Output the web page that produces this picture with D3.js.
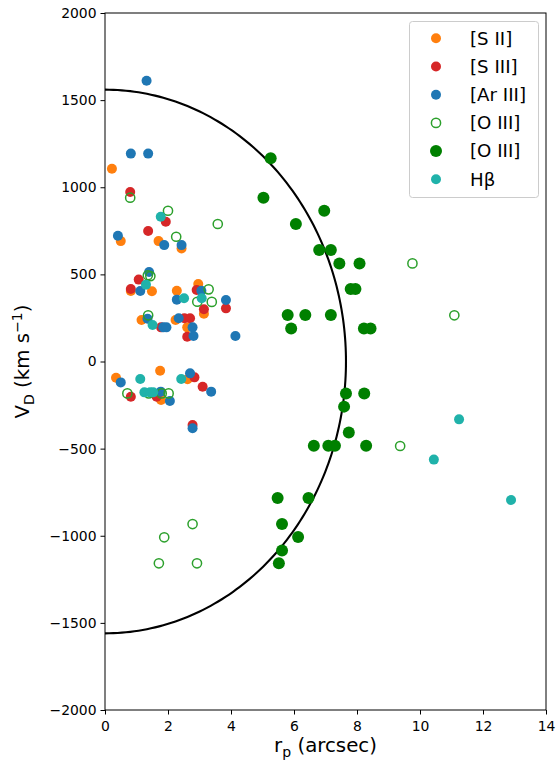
<!DOCTYPE html>
<html><head><meta charset="utf-8">
<script src="https://cdn.jsdelivr.net/npm/d3@7"></script>
<style>body{margin:0;background:#fff}svg{display:block}text{font-family:"DejaVu Sans",sans-serif}</style>
</head><body><svg id="c" width="557" height="762"></svg>
<script>
const xTicks = [0,2,4,6,8,10,12,14];
const yTicks = [-2000,-1500,-1000,-500,0,500,1000,1500,2000];
const seriesNames = ["[S II]","[S III]","[Ar III]","[O III]","[O III]","Hβ"];
const s2X = [0.22,0.50,1.70,2.43,0.82,1.49,2.28,2.96,3.14,1.16,2.24,2.61,0.35,1.75,2.62,1.78];
const s2Y = [1106,691,691,649,405,403,406,445,274,238,238,196,-93,-53,-102,-221];
const s3X = [0.80,1.93,1.37,1.07,0.82,2.91,3.14,3.84,2.52,2.70,1.78,2.61,2.84,3.10,0.82,1.64,2.78];
const s3Y = [973,802,749,470,416,410,300,305,248,248,196,142,-91,-145,-202,-202,-364];
const arX = [1.32,0.82,1.37,0.41,1.88,2.43,1.40,1.12,3.06,2.28,3.84,1.35,2.34,1.85,1.95,2.78,2.81,4.14,0.50,2.70,3.37,1.77,2.06,2.78];
const arY = [1611,1193,1193,722,668,668,514,405,406,355,353,245,248,196,196,196,146,146,-120,-68,-173,-173,-227,-383];
const o3oX = [0.80,2.00,3.58,2.26,1.36,1.44,3.29,2.93,3.39,1.37,9.76,11.09,0.71,1.39,1.80,2.02,9.37,2.78,1.88,1.71,2.92];
const o3oY = [940,865,789,716,495,490,414,343,342,265,563,265,-183,-183,-183,-183,-485,-933,-1009,-1158,-1158];
const o3fX = [5.26,5.03,6.96,6.06,6.80,7.17,7.44,8.08,7.80,7.95,5.80,6.36,7.17,5.91,8.22,8.43,7.65,8.23,7.59,7.74,6.63,7.09,7.30,8.29,5.48,6.46,5.62,6.13,5.62,5.52];
const o3fY = [1166,940,865,789,640,640,563,563,416,416,267,267,267,190,190,190,-183,-183,-259,-408,-483,-483,-483,-483,-783,-783,-933,-1007,-1084,-1158];
const hbX = [1.77,1.30,2.51,3.07,1.51,1.12,2.42,1.25,1.43,1.53,11.24,10.44,12.89];
const hbY = [831,441,363,363,209,-100,-100,-177,-177,-177,-332,-563,-795];
const ellA = 7.65, ellB = 1560;

const svg = d3.select("#c");
const L=105,R=546,T=13,B=710;
const x = d3.scaleLinear().domain([0,14]).range([L,R]);
const y = d3.scaleLinear().domain([-2000,2000]).range([B,T]);
const fmt = d=>d<0?"\u2212"+Math.abs(d):String(d);

// axes
const xa = svg.append("g").attr("transform",`translate(0,${B})`).call(d3.axisBottom(x).tickValues(xTicks).tickFormat(fmt).tickSizeOuter(0).tickSize(4.5).tickPadding(4));
const ya = svg.append("g").attr("transform",`translate(${L},0)`).call(d3.axisLeft(y).tickValues(yTicks).tickFormat(fmt).tickSizeOuter(0).tickSize(4.5).tickPadding(4));
[xa,ya].forEach(a=>{a.selectAll("text").attr("font-size",13.9).attr("fill","#000").style("font-family","DejaVu Sans");a.selectAll("line").attr("stroke","#000").attr("stroke-width",1);a.select(".domain").remove();});
xa.selectAll("text").attr("dy","0.9em");

// arc
const ts = d3.range(-90,90.5,1).map(d=>d*Math.PI/180);
svg.append("path").attr("d",d3.line().x(t=>x(ellA*Math.cos(t))).y(t=>y(ellB*Math.sin(t)))(ts))
  .attr("fill","none").attr("stroke","#000").attr("stroke-width",2.1);

const series = [
 {xs:s2X,ys:s2Y,fill:"#ff7f0e",stroke:"none",r:5},
 {xs:s3X,ys:s3Y,fill:"#d62728",stroke:"none",r:5},
 {xs:arX,ys:arY,fill:"#1f77b4",stroke:"none",r:5},
 {xs:o3oX,ys:o3oY,fill:"none",stroke:"#2ca02c",r:4.6,sw:1.5},
 {xs:o3fX,ys:o3fY,fill:"#008000",stroke:"none",r:6},
 {xs:hbX,ys:hbY,fill:"#20b2aa",stroke:"none",r:5}
];
series.forEach(s=>{
  svg.append("g").selectAll("circle").data(s.xs.map((v,i)=>[v,s.ys[i]])).join("circle")
   .attr("cx",d=>x(d[0])).attr("cy",d=>y(d[1])).attr("r",s.r)
   .attr("fill",s.fill).attr("stroke",s.stroke).attr("stroke-width",s.sw||0);
});

// frame
svg.append("rect").attr("x",L).attr("y",T).attr("width",R-L).attr("height",B-T).attr("fill","none").attr("stroke","#000").attr("stroke-width",1);

// legend
const lg = svg.append("g");
lg.append("rect").attr("x",409.5).attr("y",21.5).attr("width",129).attr("height",176).attr("rx",3)
  .attr("fill","#fff").attr("fill-opacity",0.8).attr("stroke","#ccc");
series.forEach((s,i)=>{
  const cy = 38.3 + i*28.2;
  lg.append("circle").attr("cx",436).attr("cy",cy).attr("r",s.r).attr("fill",s.fill).attr("stroke",s.stroke).attr("stroke-width",s.sw||0);
  lg.append("text").attr("x",470).attr("y",cy).attr("dy","0.35em").attr("font-size",18.2).text(seriesNames[i]);
});

// axis labels
const xl = svg.append("text").attr("x",(L+R)/2).attr("y",752).attr("text-anchor","middle").attr("font-size",19.8);
xl.append("tspan").text("r");
xl.append("tspan").attr("font-size",14).attr("dy",4.5).text("p");
xl.append("tspan").attr("dy",-4.5).text(" (arcsec)");
const yl = svg.append("text").attr("transform",`translate(29,${(T+B)/2}) rotate(-90)`).attr("text-anchor","middle").attr("font-size",19.8);
yl.append("tspan").text("V");
yl.append("tspan").attr("font-size",14).attr("dy",4.5).text("D");
yl.append("tspan").attr("dy",-4.5).text(" (km s");
yl.append("tspan").attr("font-size",14).attr("dy",-7.5).text("\u22121");
yl.append("tspan").attr("dy",7.5).text(")");
</script></body></html>
